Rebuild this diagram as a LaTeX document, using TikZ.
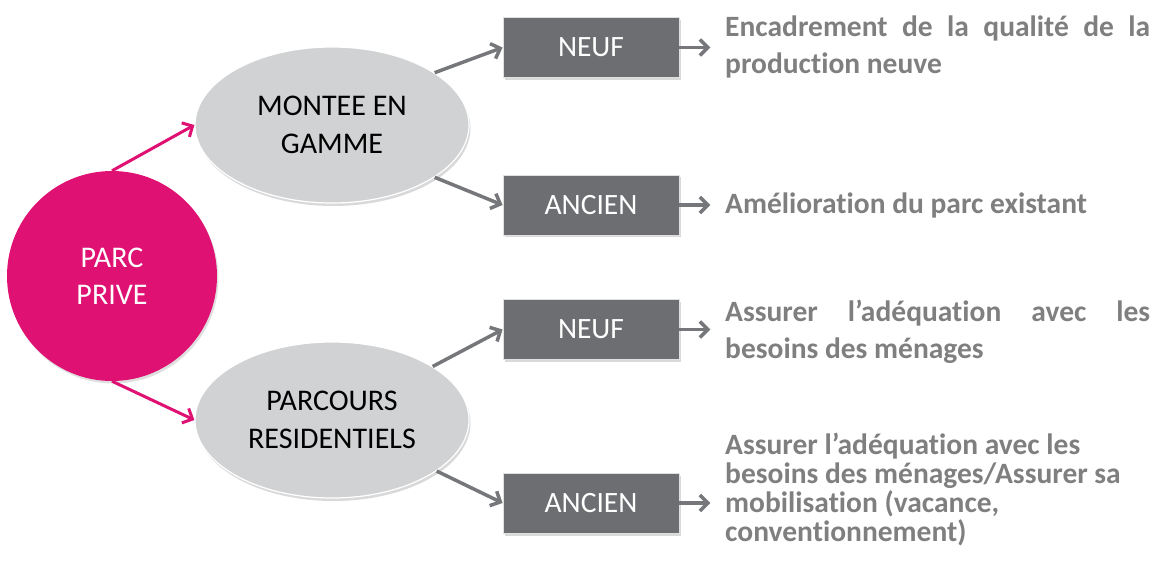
\documentclass[tikz,border=0pt]{standalone}
\usepackage{fontspec}
\setmainfont{Carlito}[Ligatures={NoCommon}]
\usetikzlibrary{shapes.geometric,arrows.meta,shadows}
\definecolor{pinkc}{HTML}{DF1172}
\definecolor{ellc}{HTML}{D0D2D3}
\definecolor{boxc}{HTML}{6D6E71}
\definecolor{arrc}{HTML}{76777A}
\definecolor{txtc}{HTML}{7F7F7F}
\tikzset{
  bigcircle/.style={circle, fill=pinkc, minimum size=210pt, inner sep=0pt, text=white,
    align=center, font=\fontsize{30}{37}\selectfont,
    drop shadow={shadow xshift=1.5pt, shadow yshift=-2.5pt, opacity=0.25}},
  ellnode/.style={ellipse, fill=ellc, draw=white, line width=1.2pt, minimum width=274pt,
    minimum height=156pt, inner sep=0pt, align=center, font=\fontsize{30}{38}\selectfont,
    drop shadow={shadow xshift=1.5pt, shadow yshift=-3pt, opacity=0.3}},
  boxnode/.style={rectangle, fill=boxc, draw=white!88!black, line width=0.8pt,
    minimum width=176pt, minimum height=60pt, inner sep=0pt, text=white,
    font=\fontsize{29.5}{34}\selectfont,
    drop shadow={shadow xshift=1.5pt, shadow yshift=-2.5pt, opacity=0.3}},
  desc/.style={anchor=base west, inner sep=0pt, text=txtc, align=left,
    font=\fontsize{29.5}{37}\bfseries\selectfont},
  pinkarr/.style={draw=pinkc, line width=3pt, -{Straight Barb[length=8pt,width=16pt]}},
  grayarr/.style={draw=arrc, line width=3.5pt, -{Straight Barb[length=8pt,width=16pt]}}
}
\begin{document}
\begin{tikzpicture}[x=1pt,y=-1pt]
\useasboundingbox (0,0) rectangle (1153,569);
\node[ellnode] (m) at (332,125) {MONTEE EN\\GAMME};
\node[ellnode] (p) at (332,420) {PARCOURS\\RESIDENTIELS};
\node[bigcircle] (c) at (112,276) {PARC\\PRIVE};

\node[boxnode] (b1) at (591,47.5) {NEUF};
\node[boxnode] (b2) at (591,205) {ANCIEN};
\node[boxnode] (b3) at (591,329.5) {NEUF};
\node[boxnode] (b4) at (591,503) {ANCIEN};

\node[desc] (t1) at (725,74) {\makebox[425pt][s]{Encadrement de la qualité de la}\\production neuve};
\node[desc] (t2) at (725,214) {Amélioration du parc existant};
\node[desc] (t3) at (725,358) {\makebox[425pt][s]{Assurer l’adéquation avec les}\\besoins des ménages};
\node[desc, font=\fontsize{29.5}{29}\bfseries\selectfont] (t4) at (725,541) {Assurer l’adéquation avec les\\besoins des ménages/Assurer sa\\mobilisation (vacance,\\conventionnement)};

\coordinate (a1) at ([xshift=31pt]b1.east);
\coordinate (a2) at ([xshift=31pt]b2.east);
\coordinate (a3) at ([xshift=31pt]b3.east);
\coordinate (a4) at ([xshift=31pt]b4.east);

\draw[pinkarr] (c.north) -- (m.west);
\draw[pinkarr] (c.south) -- (p.west);

\draw[grayarr] (m.27) -- (b1.west);
\draw[grayarr] (m.-27) -- (b2.west);
\draw[grayarr] (p.28) -- (b3.west);
\draw[grayarr] (p.-26) -- (b4.west);

\draw[grayarr] (b1.east) -- (a1);
\draw[grayarr] (b2.east) -- (a2);
\draw[grayarr] (b3.east) -- (a3);
\draw[grayarr] (b4.east) -- (a4);
\end{tikzpicture}
\end{document}
